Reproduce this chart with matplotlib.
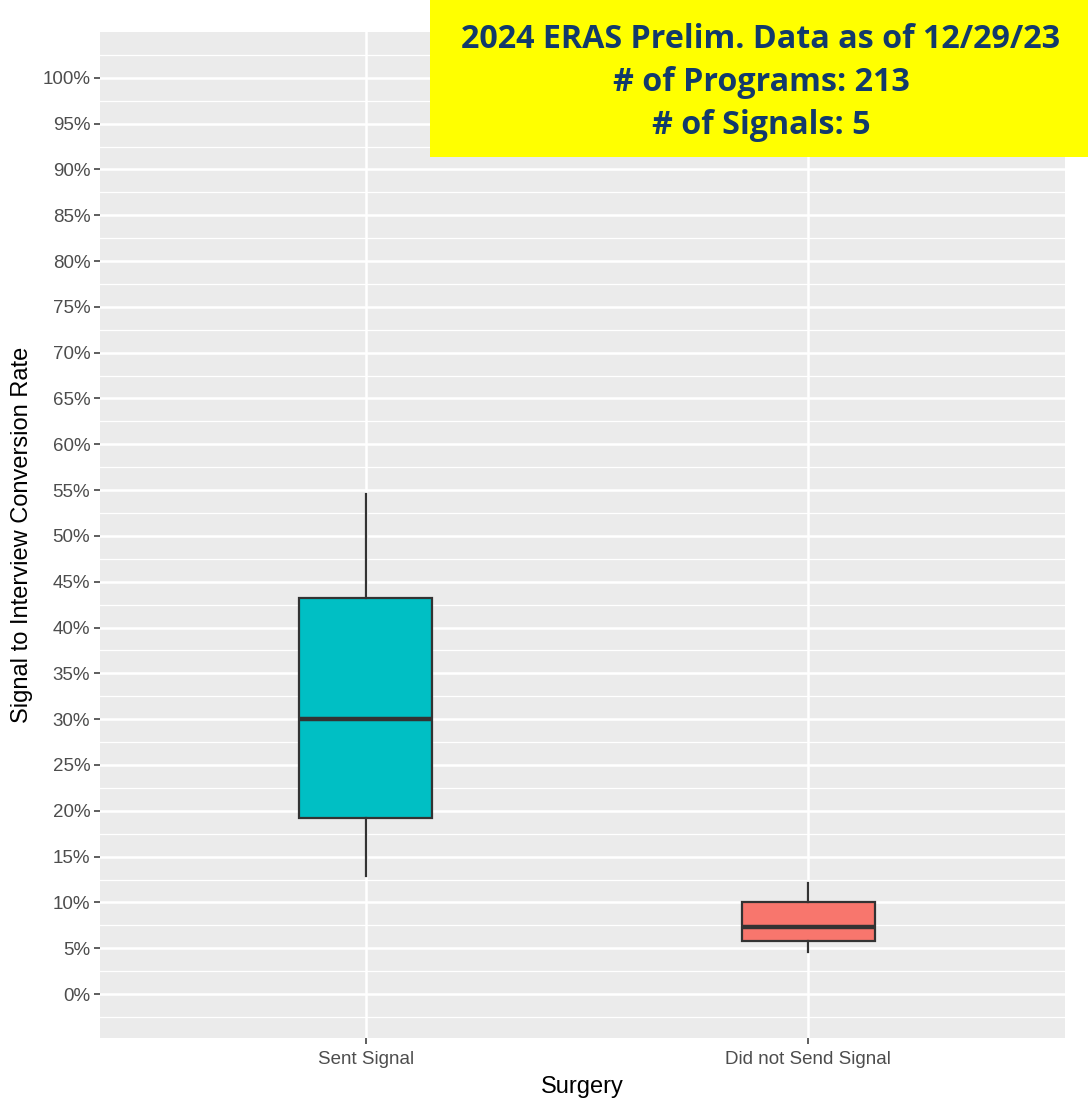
#!/usr/bin/env python3

from matplotlib import pyplot as plt
import numpy as np

# Box statistics (fractions) for each signal group
groups = ["Sent Signal", "Did not Send Signal"]
whisker_low = [0.129, 0.046]
q1 = [0.192, 0.058]
median = [0.300, 0.073]
q3 = [0.432, 0.100]
whisker_high = [0.546, 0.121]
fills = ["#00BFC4", "#F8766D"]

banner_lines = ["2024 ERAS Prelim. Data as of 12/29/23",
                "# of Programs: 213",
                "# of Signals: 5"]

plt.rcParams["font.family"] = ["Liberation Sans", "DejaVu Sans"]

fig = plt.figure(figsize=(10.88, 11.03), dpi=100)
ax = fig.add_axes([0.0919, 0.0589, 0.8870, 0.9121])
ax.set_facecolor("#EBEBEB")

stats = []
for i, g in enumerate(groups):
    stats.append({"label": g, "whislo": whisker_low[i], "q1": q1[i],
                  "med": median[i], "q3": q3[i], "whishi": whisker_high[i],
                  "fliers": []})

bp = ax.bxp(stats, positions=[1, 2], widths=0.3, patch_artist=True,
            showcaps=False, zorder=3,
            boxprops=dict(edgecolor="#333333", linewidth=1.6),
            whiskerprops=dict(color="#333333", linewidth=1.6),
            medianprops=dict(color="#333333", linewidth=3.2))
for patch, c in zip(bp["boxes"], fills):
    patch.set_facecolor(c)

ax.set_xlim(0.4, 2.58)
ax.set_ylim(-0.048, 1.05)

yt = np.arange(0, 1.0001, 0.05)
ax.set_yticks(yt)
ax.set_yticklabels([f"{int(round(v * 100))}%" for v in yt])
ax.set_yticks(np.arange(-0.025, 1.05, 0.05), minor=True)
ax.set_xticks([1, 2])
ax.set_xticklabels(groups)

ax.grid(True, which="major", color="white", linewidth=1.8, zorder=0)
ax.grid(True, which="minor", axis="y", color="white", linewidth=0.9, zorder=0)
ax.set_axisbelow(True)
for s in ax.spines.values():
    s.set_visible(False)
ax.tick_params(which="major", length=4, width=1.1, color="#333333",
               labelcolor="#4D4D4D", labelsize=13.5, pad=3)
ax.tick_params(axis="x", pad=5)
ax.tick_params(which="minor", length=0)

ax.set_xlabel("Surgery", fontsize=17, labelpad=6)
ax.set_ylabel("Signal to Interview Conversion Rate", fontsize=17, labelpad=7)

# Yellow banner in the top right corner
fig.patches.append(plt.Rectangle((430 / 1088, 1 - 157 / 1103),
                                 658 / 1088, 157 / 1103,
                                 transform=fig.transFigure,
                                 facecolor="#FFFF00", edgecolor="none",
                                 zorder=5))
for k, line in enumerate(banner_lines):
    fig.text(761 / 1088, 1 - (39 + 43.5 * k) / 1103, line,
             ha="center", va="center", fontsize=23.2, fontweight="bold",
             color="#123A6B", family=["Open Sans", "DejaVu Sans"], zorder=6)

fig.savefig("out.png", dpi=100)
